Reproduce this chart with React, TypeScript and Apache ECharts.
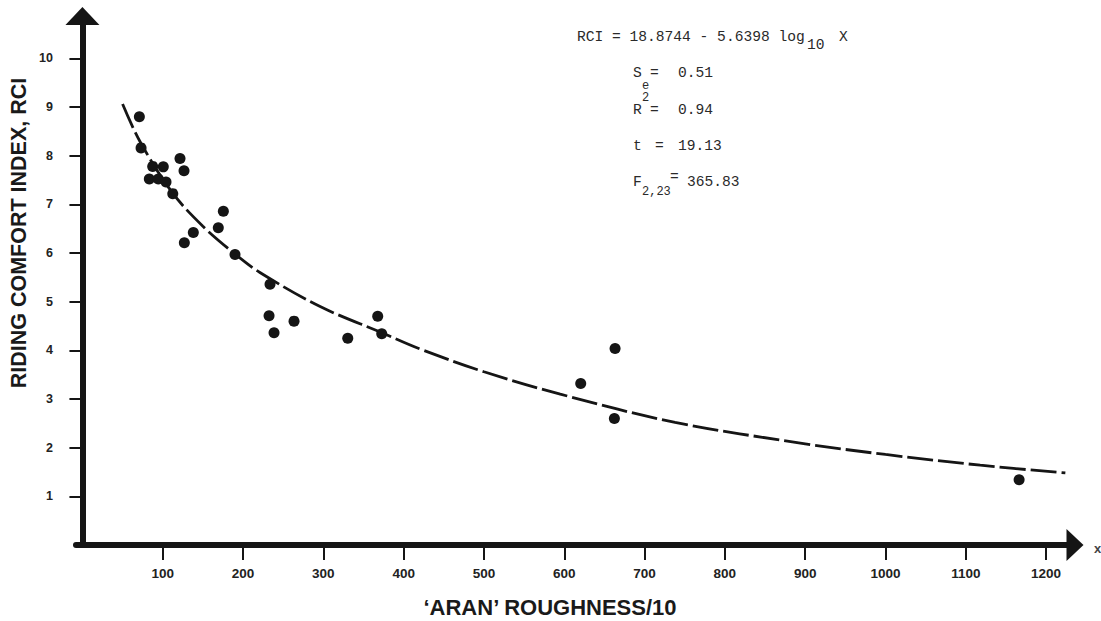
import React, { useEffect, useRef } from "react";
import * as echarts from "echarts";

// Scatter observations: 'ARAN' roughness/10 vs riding comfort index
const roughness = [70.9, 73.0, 121.5, 87.5, 100.7, 126.5, 83.3, 94.5, 104.1, 112.5, 175.5, 169.2, 138.1, 126.9, 190.0, 233.6, 232.4, 263.5, 238.6, 330.4, 367.7, 372.7, 663.3, 620.5, 662.4, 1166.4];
const rci = [8.8, 8.16, 7.94, 7.78, 7.77, 7.69, 7.52, 7.52, 7.46, 7.22, 6.86, 6.52, 6.42, 6.21, 5.97, 5.36, 4.71, 4.6, 4.36, 4.25, 4.7, 4.34, 4.04, 3.32, 2.6, 1.34];

// Fitted curve as drawn in the figure
const curveRoughness = [50, 72, 112, 150, 190, 221, 296, 373, 420, 500, 595, 738, 900, 1000, 1118, 1224];
const curveRci = [9.06, 8.28, 7.24, 6.55, 5.98, 5.6, 4.9, 4.36, 4.03, 3.56, 3.1, 2.52, 2.08, 1.86, 1.64, 1.48];

const xTicks = [100, 200, 300, 400, 500, 600, 700, 800, 900, 1000, 1100, 1200];
const yTicks = [1, 2, 3, 4, 5, 6, 7, 8, 9, 10];

const xName = "\u2018ARAN\u2019 ROUGHNESS/10";
const yName = "RIDING COMFORT INDEX, RCI";

const INK = "#151515";
const MONO = "'Liberation Mono', 'DejaVu Sans Mono', monospace";
const SANS = "'Liberation Sans', Arial, sans-serif";

function monoText(text: string, x: number, y: number, size = 14.6) {
  return {
    type: "text",
    x,
    y,
    style: {
      text,
      font: `${size}px ${MONO}`,
      fill: "#2a2a2a",
      textAlign: "left",
      textVerticalAlign: "middle",
    },
  };
}

export default function App() {
  const ref = useRef<HTMLDivElement>(null);

  useEffect(() => {
    if (!ref.current) return;
    const chart = echarts.init(ref.current, undefined, { renderer: "svg" });

    const scatterData = roughness.map((x, i) => [x, rci[i]]);
    const curveData = curveRoughness.map((x, i) => [x, curveRci[i]]);

    chart.setOption({
      animation: false,
      backgroundColor: "#ffffff",
      grid: { left: 76, right: 26, top: 16, bottom: 76, containLabel: false },
      xAxis: {
        type: "value",
        min: -8,
        max: 1236,
        axisLine: {
          show: true,
          symbol: ["none", "triangle"],
          symbolSize: [32, 17],
          lineStyle: { color: INK, width: 6 },
        },
        axisTick: {
          show: true,
          length: 15,
          inside: false,
          customValues: xTicks,
          lineStyle: { color: INK, width: 2 },
        },
        axisLabel: {
          show: true,
          customValues: xTicks,
          formatter: (v: number) => String(v),
          margin: 21,
          color: "#222",
          fontFamily: SANS,
          fontWeight: "bold",
          fontSize: 13.5,
        },
        splitLine: { show: false },
      },
      yAxis: {
        type: "value",
        min: 0,
        max: 10.87,
        axisLine: {
          show: true,
          symbol: ["none", "triangle"],
          symbolSize: [34, 18],
          lineStyle: { color: INK, width: 6 },
        },
        axisTick: {
          show: true,
          length: 13,
          inside: false,
          customValues: yTicks,
          lineStyle: { color: INK, width: 2 },
        },
        axisLabel: {
          show: true,
          customValues: yTicks,
          formatter: (v: number) => String(v),
          margin: 23,
          color: "#222",
          fontFamily: SANS,
          fontWeight: "bold",
          fontSize: 12.5,
        },
        splitLine: { show: false },
      },
      series: [
        {
          type: "line",
          data: curveData,
          showSymbol: false,
          smooth: 0.35,
          lineStyle: { color: INK, width: 2.8, type: [26, 5] },
          z: 2,
        },
        {
          type: "scatter",
          data: scatterData,
          symbol: "circle",
          symbolSize: 11,
          itemStyle: { color: INK, opacity: 1 },
          z: 3,
        },
      ],
      graphic: [
        {
          type: "text",
          x: 19,
          y: 233,
          rotation: Math.PI / 2,
          style: {
            text: yName,
            font: `bold 21.5px ${SANS}`,
            fill: "#1a1a1a",
            textAlign: "center",
            textVerticalAlign: "middle",
          },
        },
        {
          type: "text",
          x: 550,
          y: 607,
          style: {
            text: xName,
            font: `bold 22px ${SANS}`,
            fill: "#1a1a1a",
            textAlign: "center",
            textVerticalAlign: "middle",
          },
        },
        {
          type: "text",
          x: 1094,
          y: 548,
          style: {
            text: "x",
            font: `bold 13px ${SANS}`,
            fill: "#444",
            textAlign: "left",
            textVerticalAlign: "middle",
          },
        },
        monoText("RCI = 18.8744 - 5.6398 log", 577, 37),
        monoText("10", 807, 45),
        monoText("X", 839, 37),
        monoText("S", 633, 73),
        monoText("e", 642, 86, 12),
        monoText("=", 650, 73),
        monoText("0.51", 678, 73),
        monoText("R", 633, 110),
        monoText("2", 642, 98, 12),
        monoText("=", 650, 110),
        monoText("0.94", 678, 110),
        monoText("t", 633, 146),
        monoText("=", 655, 146),
        monoText("19.13", 678, 146),
        monoText("F", 633, 182),
        monoText("2,23", 642, 192, 12),
        monoText("=", 670, 177),
        monoText("365.83", 687, 182),
      ],
    });

    return () => {
      chart.dispose();
    };
  }, []);

  return (
    <div
      ref={ref}
      style={{ position: "fixed", left: 0, top: 0, width: 1101, height: 621, background: "#fff" }}
    />
  );
}
